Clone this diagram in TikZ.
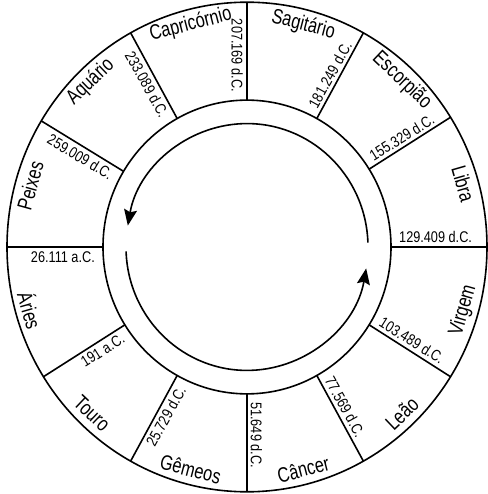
\documentclass[tikz,border=0pt]{standalone}
\usepackage{fontspec}
\setmainfont{Liberation Sans}
\newfontfamily\signfont[FakeStretch=0.78]{Liberation Sans}
\newfontfamily\datefont[FakeStretch=0.82]{Liberation Sans}
\usetikzlibrary{arrows.meta,calc}

\begin{document}
\begin{tikzpicture}[
x=1pt, y=1.02pt,
ring/.style={line width=1.6pt},
sign/.style={font=\signfont\fontsize{21}{21}\selectfont, inner sep=0pt},
date/.style={font=\datefont\fontsize{15.5}{15.5}\selectfont, inner sep=0pt},
cycle/.style={line width=1.6pt, -{Stealth[length=16pt,width=13pt,inset=2.5pt]}}
]
\useasboundingbox (-247,-242.16) rectangle (241,242.16);
\coordinate (o) at (0,0);

\draw[ring] (o) circle[radius=240];
\draw[ring] (o) circle[radius=144];
\foreach \b in {0,32,61,90,119,149,180,212,241,270,299,328}
  \draw[ring] (\b:144) -- (\b:240);

\draw[cycle] (2:121) arc[start angle=2, end angle=170, radius=121];
\draw[cycle] (182:121) arc[start angle=182, end angle=350, radius=121];

\node[sign, rotate=-74] (libra) at (16:225) {Libra};
\node[sign, rotate=-43.5] (escorpiao) at (46.5:225) {Escorpião};
\node[sign, rotate=-14.5] (sagitario) at (75.5:225) {Sagitário};
\node[sign, rotate=14.5] (capricornio) at (104.5:225) {Capricórnio};
\node[sign, rotate=44] (aquario) at (134:225) {Aquário};
\node[sign, rotate=74.5] (peixes) at (164.5:225) {Peixes};
\node[sign, rotate=-74] (aries) at (196:225) {Áries};
\node[sign, rotate=-43.5] (touro) at (226.5:225) {Touro};
\node[sign, rotate=-14.5] (gemeos) at (255.5:225) {Gêmeos};
\node[sign, rotate=14.5] (cancer) at (284.5:225) {Câncer};
\node[sign, rotate=43.5] (leao) at (313.5:225) {Leão};
\node[sign, rotate=74] (virgem) at (344:225) {Virgem};

\node[date, anchor=base west, rotate=0] (b0) at ($(0:152)+(90:4)$) {129.409 d.C.};
\node[date, anchor=base west, rotate=32] (b32) at ($(32:152)+(122:4)$) {155.329 d.C.};
\node[date, anchor=base west, rotate=61] (b61) at ($(61:152)+(151:4)$) {181.249 d.C.};
\node[date, anchor=north east, rotate=-90] (b90) at ($(90:152)+(180:4)$) {207.169 d.C.};
\node[date, anchor=north east, rotate=-61] (b119) at ($(119:152)+(209:4)$) {233.089 d.C.};
\node[date, anchor=north east, rotate=-31] (b149) at ($(149:152)+(239:4)$) {259.009 d.C.};
\node[date, anchor=north east, rotate=0] (b180) at ($(180:152)+(270:4)$) {26.111 a.C.};
\node[date, anchor=north east, rotate=32] (b212) at ($(212:152)+(302:4)$) {191 a.C.};
\node[date, anchor=north east, rotate=61] (b241) at ($(241:152)+(331:4)$) {25.729 d.C.};
\node[date, anchor=base west, rotate=-90] (b270) at ($(270:152)+(0:4)$) {51.649 d.C.};
\node[date, anchor=base west, rotate=-61] (b299) at ($(299:152)+(29:4)$) {77.569 d.C.};
\node[date, anchor=base west, rotate=-32] (b328) at ($(328:152)+(58:4)$) {103.489 d.C.};
\end{tikzpicture}
\end{document}
